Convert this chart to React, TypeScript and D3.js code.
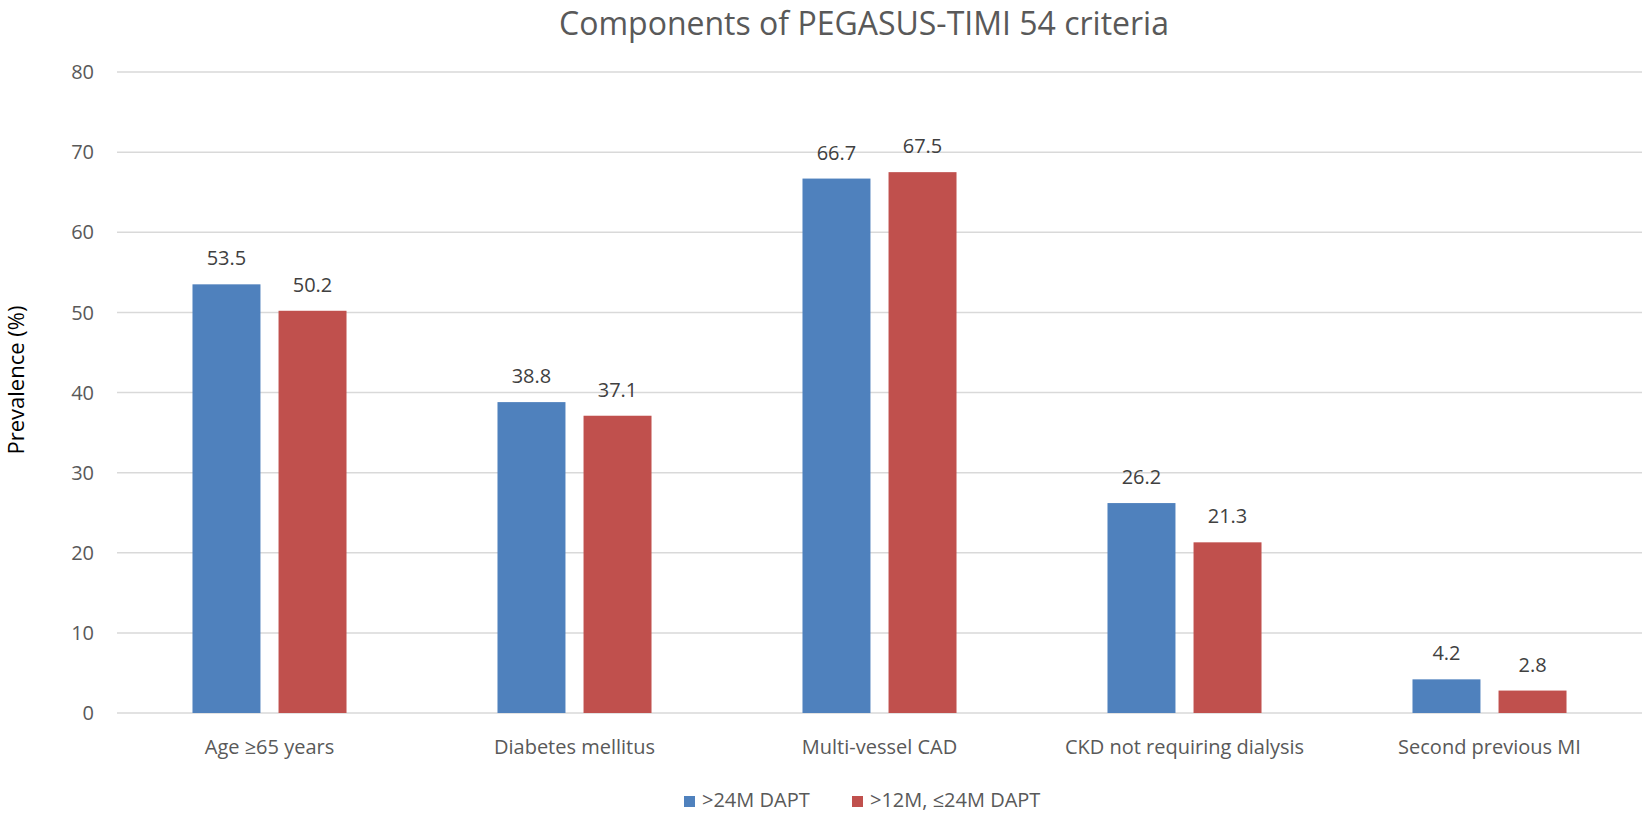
import React, { useEffect, useRef } from 'react';
import * as d3 from 'd3';

const categories = ['Age ≥65 years', 'Diabetes mellitus', 'Multi-vessel CAD', 'CKD not requiring dialysis', 'Second previous MI'];
const seriesNames = ['>24M DAPT', '>12M, ≤24M DAPT'];
const over24 = [53.5, 38.8, 66.7, 26.2, 4.2];
const between12and24 = [50.2, 37.1, 67.5, 21.3, 2.8];
const yTicks = [0, 10, 20, 30, 40, 50, 60, 70, 80];
const colors = ['#4F81BD', '#C0504D'];

const FONT = '"Open Sans", "DejaVu Sans", sans-serif';

const App: React.FC = () => {
  const svgRef = useRef<SVGSVGElement>(null);

  useEffect(() => {
    document.body.style.margin = '0';
    if (!svgRef.current) return;
    const svg = d3.select(svgRef.current);
    svg.selectAll('*').remove();

    const width = 1650;
    const height = 813;
    const margin = { top: 72, right: 8, bottom: 100, left: 117 };
    const innerW = width - margin.left - margin.right;
    const innerH = height - margin.top - margin.bottom;

    const g = svg.append('g').attr('transform', `translate(${margin.left},${margin.top})`);

    const x0 = d3.scaleBand().domain(categories).range([0, innerW]).padding(0);
    const groupW = x0.bandwidth() * 0.505;
    const x1 = d3.scaleBand()
      .domain(seriesNames)
      .range([(x0.bandwidth() - groupW) / 2, (x0.bandwidth() + groupW) / 2])
      .paddingInner(0.21)
      .paddingOuter(0);

    const y = d3.scaleLinear().domain([0, 80]).range([innerH, 0]);

    // gridlines
    g.append('g')
      .selectAll('line')
      .data(yTicks)
      .enter().append('line')
      .attr('x1', 0)
      .attr('x2', innerW)
      .attr('y1', d => y(d))
      .attr('y2', d => y(d))
      .attr('stroke', '#D9D9D9')
      .attr('stroke-width', 1.5);

    // y tick labels
    g.append('g')
      .selectAll('text')
      .data(yTicks)
      .enter().append('text')
      .attr('x', -23)
      .attr('y', d => y(d))
      .attr('dy', '0.36em')
      .attr('text-anchor', 'end')
      .style('font-family', FONT)
      .style('font-size', '20px')
      .style('fill', '#595959')
      .text(d => d);

    const rows = categories.map((c, i) => ({ category: c, values: [over24[i], between12and24[i]] }));

    const groups = g.selectAll('.grp')
      .data(rows)
      .enter().append('g')
      .attr('class', 'grp')
      .attr('transform', d => `translate(${x0(d.category)},0)`);

    groups.selectAll('rect')
      .data(d => d.values.map((v, k) => ({ key: seriesNames[k], value: v, k })))
      .enter().append('rect')
      .attr('x', d => x1(d.key) || 0)
      .attr('y', d => y(d.value))
      .attr('width', x1.bandwidth())
      .attr('height', d => innerH - y(d.value))
      .attr('fill', d => colors[d.k]);

    groups.selectAll('.lbl')
      .data(d => d.values.map((v, k) => ({ key: seriesNames[k], value: v })))
      .enter().append('text')
      .attr('class', 'lbl')
      .attr('x', d => (x1(d.key) || 0) + x1.bandwidth() / 2)
      .attr('y', d => y(d.value) - 19)
      .attr('text-anchor', 'middle')
      .style('font-family', FONT)
      .style('font-size', '20px')
      .style('fill', '#404040')
      .text(d => d.value.toFixed(1));

    // category labels
    g.append('g')
      .selectAll('text')
      .data(categories)
      .enter().append('text')
      .attr('x', d => (x0(d) || 0) + x0.bandwidth() / 2)
      .attr('y', innerH + 41)
      .attr('text-anchor', 'middle')
      .style('font-family', FONT)
      .style('font-size', '20px')
      .style('fill', '#595959')
      .text(d => d);

    // y axis title
    svg.append('text')
      .attr('transform', `translate(24,380) rotate(-90)`)
      .attr('text-anchor', 'middle')
      .style('font-family', FONT)
      .style('font-size', '22px')
      .style('fill', '#000')
      .text('Prevalence (%)');

    // title
    svg.append('text')
      .attr('x', 864)
      .attr('y', 35)
      .attr('text-anchor', 'middle')
      .style('font-family', FONT)
      .style('font-size', '32px')
      .style('fill', '#595959')
      .text('Components of PEGASUS-TIMI 54 criteria');

    // legend
    const legendX = [684, 852];
    const legend = svg.append('g');
    seriesNames.forEach((name, i) => {
      legend.append('rect')
        .attr('x', legendX[i])
        .attr('y', 796)
        .attr('width', 11)
        .attr('height', 11)
        .attr('fill', colors[i]);
      legend.append('text')
        .attr('x', legendX[i] + 18)
        .attr('y', 807)
        .style('font-family', FONT)
        .style('font-size', '20px')
        .style('fill', '#595959')
        .text(name);
    });
  }, []);

  return <svg ref={svgRef} width={1650} height={813} style={{ display: 'block', background: '#fff' }}></svg>;
};

export default App;
